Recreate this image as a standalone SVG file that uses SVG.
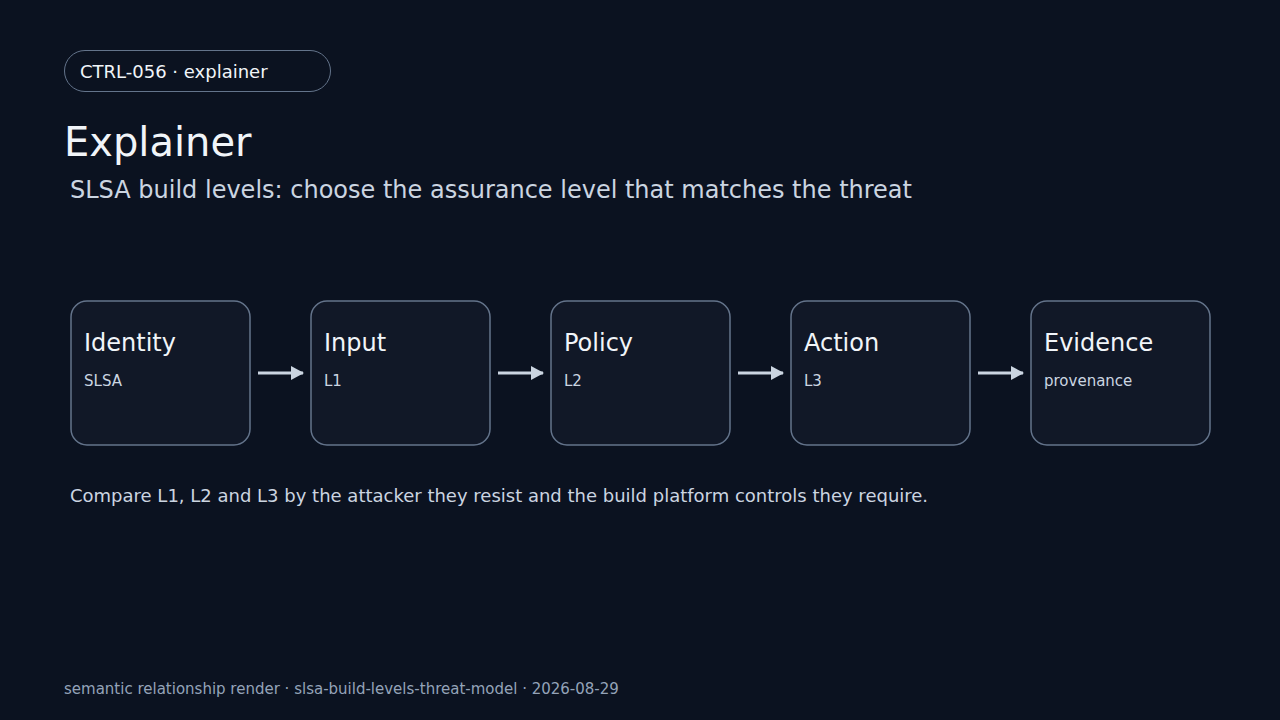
<svg xmlns="http://www.w3.org/2000/svg" width="1280" height="720" viewBox="0 0 1280 720">
<style>
text{font-family:"DejaVu Sans","Liberation Sans",sans-serif}
.node rect{fill:#111827;stroke:#64748b;stroke-width:1.5}
.nt{fill:#f1f5f9;font-size:24px}
.ns{fill:#cbd5e1;font-size:15px}
.edge{stroke:#cbd5e1;stroke-width:3;fill:none;marker-end:url(#ah)}
</style>
<defs>
<marker id="ah" markerWidth="14" markerHeight="14" refX="12" refY="7" orient="auto" markerUnits="userSpaceOnUse">
<path d="M0,0 L13,7 L0,14 Z" fill="#cbd5e1"/>
</marker>
</defs>
<rect width="1280" height="720" fill="#0b1220"/>
<g id="header">
<rect x="64.5" y="50.5" width="266" height="41" rx="20.5" fill="#0b1220" stroke="#64748b" stroke-width="1"/>
<text x="80" y="78" font-size="18" fill="#f1f5f9">CTRL-056 · explainer</text>
<text x="64" y="156" font-size="40" fill="#f1f5f9">Explainer</text>
<text x="70" y="198" font-size="24" fill="#cbd5e1">SLSA build levels: choose the assurance level that matches the threat</text>
</g>
<g id="connectors">
<path class="edge" d="M258,373 H303"/>
<path class="edge" d="M498,373 H543"/>
<path class="edge" d="M738,373 H783"/>
<path class="edge" d="M978,373 H1023"/>
</g>
<g id="identity" class="node"><rect x="71" y="301" width="179" height="144" rx="16"/><text class="nt" x="84" y="351">Identity</text><text class="ns" x="84" y="386">SLSA</text></g>
<g id="input" class="node"><rect x="311" y="301" width="179" height="144" rx="16"/><text class="nt" x="324" y="351">Input</text><text class="ns" x="324" y="386">L1</text></g>
<g id="policy" class="node"><rect x="551" y="301" width="179" height="144" rx="16"/><text class="nt" x="564" y="351">Policy</text><text class="ns" x="564" y="386">L2</text></g>
<g id="action" class="node"><rect x="791" y="301" width="179" height="144" rx="16"/><text class="nt" x="804" y="351">Action</text><text class="ns" x="804" y="386">L3</text></g>
<g id="evidence" class="node"><rect x="1031" y="301" width="179" height="144" rx="16"/><text class="nt" x="1044" y="351">Evidence</text><text class="ns" x="1044" y="386">provenance</text></g>
<text x="70" y="502" font-size="18" fill="#cbd5e1">Compare L1, L2 and L3 by the attacker they resist and the build platform controls they require.</text>
<text x="64" y="694" font-size="15" fill="#94a3b8">semantic relationship render · slsa-build-levels-threat-model · 2026-08-29</text>
</svg>
